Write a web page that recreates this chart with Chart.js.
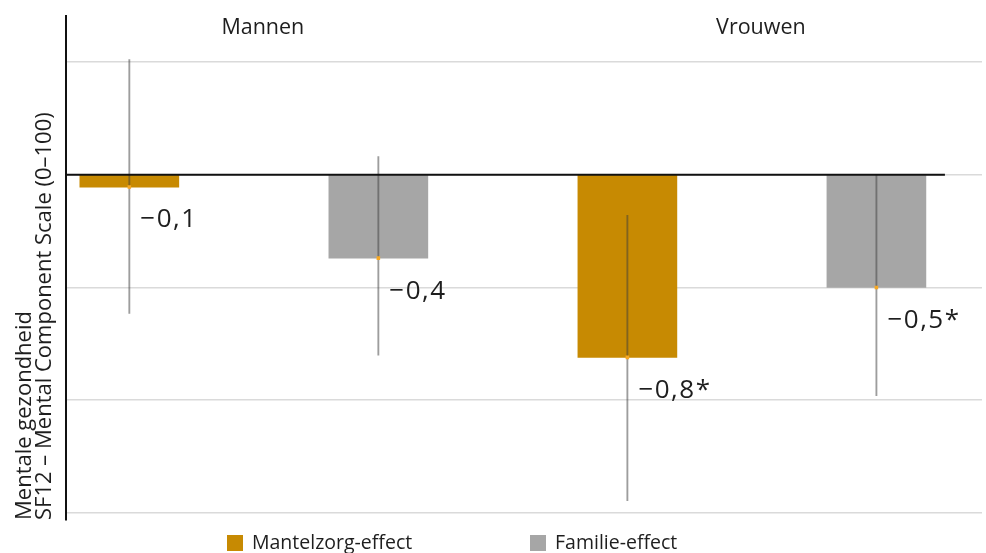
<!DOCTYPE html>
<html>
<head>
<meta charset="utf-8">
<script src="https://cdn.jsdelivr.net/npm/chart.js@4"></script>
<style>
  html, body { margin: 0; padding: 0; background: #ffffff; }
  #wrap { width: 986px; height: 553px; }
</style>
</head>
<body>
<div id="wrap"><canvas id="c" width="986" height="553"></canvas></div>
<script>
// Groups shown along the top, and the two effects per group
const groups = ['Mannen', 'Vrouwen'];
const seriesNames = ['Mantelzorg-effect', 'Familie-effect'];

// Estimated effect on the SF12 mental component score
const mantelzorg = [-0.055, -0.81];
const familie = [-0.37, -0.50];

// Confidence intervals (lower, upper)
const mantelzorgLow = [-0.615, -1.445];
const mantelzorgHigh = [0.51, -0.18];
const familieLow = [-0.80, -0.98];
const familieHigh = [0.08, 0.0];

// Significance markers appended to the value labels
const mantelzorgSig = ['', '*'];
const familieSig = ['', '*'];

// Gridline positions on the value axis
const yTicks = [-1.5, -1, -0.5, 0, 0.5];
const yTitle = ['Mentale gezondheid', 'SF12 \u2013 Mental Component Scale (0\u2013100)'];

const COLORS = { mantelzorg: '#c78a02', familie: '#a6a6a6' };
const FONT = "'Open Sans', 'Noto Sans', sans-serif";
const BAR_WIDTH = 99;

// Each group holds two slots: 0 = mantelzorg, 1 = familie
const slot = (g, s) => g * 2 + s;

const series = [
  { name: seriesNames[0], values: mantelzorg, low: mantelzorgLow, high: mantelzorgHigh, sig: mantelzorgSig, color: COLORS.mantelzorg },
  { name: seriesNames[1], values: familie, low: familieLow, high: familieHigh, sig: familieSig, color: COLORS.familie }
];

const barSets = series.map((s, si) => ({
  type: 'bar',
  label: s.name,
  data: groups.map((g, gi) => ({ x: slot(gi, si), y: s.values[gi] })),
  backgroundColor: s.color,
  borderWidth: 0,
  barThickness: BAR_WIDTH,
  grouped: false,
  order: 3
}));

const ciSet = {
  type: 'bar',
  label: 'ci',
  data: series.flatMap((s, si) => groups.map((g, gi) => ({ x: slot(gi, si), y: [s.low[gi], s.high[gi]] }))),
  backgroundColor: 'rgba(60,60,60,0.5)',
  borderWidth: 0,
  barThickness: 1.2,
  grouped: false,
  order: 2
};

const meanSet = {
  type: 'scatter',
  label: 'mean',
  data: series.flatMap((s, si) => groups.map((g, gi) => ({ x: slot(gi, si), y: s.values[gi] }))),
  pointStyle: 'rect',
  pointRadius: 2.5,
  backgroundColor: '#f7a823',
  borderWidth: 0,
  order: 1
};

function formatValue(v) {
  const txt = Math.abs(v).toFixed(1).replace('.', ',');
  return (v < 0 ? '\u2212' : '') + txt;
}

// Black zero line across the bars, value labels and group headings
const annotations = {
  id: 'annotations',
  afterDatasetsDraw(chart) {
    const { ctx, chartArea, scales: { x, y } } = chart;
    const y0 = y.getPixelForValue(0);
    const lastSlot = slot(groups.length - 1, series.length - 1);
    ctx.save();
    ctx.strokeStyle = '#111111';
    ctx.lineWidth = 2;
    ctx.beginPath();
    ctx.moveTo(chartArea.left, y0);
    ctx.lineTo(x.getPixelForValue(lastSlot) + BAR_WIDTH / 2 + 19, y0);
    ctx.stroke();

    ctx.fillStyle = '#1e1e1e';
    ctx.font = '26px ' + FONT;
    ctx.letterSpacing = '1.5px';
    ctx.textAlign = 'left';
    ctx.textBaseline = 'middle';
    series.forEach((s, si) => {
      groups.forEach((g, gi) => {
        const px = x.getPixelForValue(slot(gi, si));
        const py = y.getPixelForValue(s.values[gi]);
        ctx.fillText(formatValue(s.values[gi]) + s.sig[gi], px + 11, py + 33);
      });
    });

    ctx.letterSpacing = '0px';
    ctx.font = '21.5px ' + FONT;
    ctx.textAlign = 'center';
    groups.forEach((g, gi) => {
      const cx = (x.getPixelForValue(slot(gi, 0)) + x.getPixelForValue(slot(gi, series.length - 1))) / 2;
      ctx.fillText(g, cx + 9, chartArea.top + 12);
    });
    ctx.restore();
  },
  afterDraw(chart) {
    const { ctx } = chart;
    const items = [{ x: 227 }, { x: 530 }];
    ctx.save();
    ctx.font = '19.5px ' + FONT;
    ctx.textAlign = 'left';
    ctx.textBaseline = 'middle';
    series.forEach((s, si) => {
      const bx = items[si].x;
      ctx.fillStyle = s.color;
      ctx.fillRect(bx, 535, 16, 16);
      ctx.fillStyle = '#1e1e1e';
      ctx.fillText(s.name, bx + 25, 543);
    });
    ctx.restore();
  }
};

new Chart(document.getElementById('c'), {
  data: { datasets: [...barSets, ciSet, meanSet] },
  options: {
    responsive: false,
    animation: false,
    devicePixelRatio: 1,
    layout: { padding: { left: 5, top: 16, right: 0, bottom: 33 } },
    plugins: { legend: { display: false }, tooltip: { enabled: false } },
    scales: {
      x: {
        type: 'linear',
        display: false,
        offset: false,
        min: -0.2559,
        max: 3.424
      },
      y: {
        type: 'linear',
        min: -1.531,
        max: 0.7035,
        afterBuildTicks: (scale) => { scale.ticks = yTicks.map(v => ({ value: v })); },
        ticks: { display: false },
        grid: { color: '#dadada', lineWidth: 1.5, drawTicks: false },
        border: { display: true, color: '#111111', width: 2 },
        title: {
          display: true,
          text: yTitle,
          align: 'start',
          color: '#1e1e1e',
          font: { family: FONT, size: 22, lineHeight: 0.9 },
          padding: { top: 10, bottom: 11 }
        }
      }
    }
  },
  plugins: [annotations]
});
</script>
</body>
</html>
